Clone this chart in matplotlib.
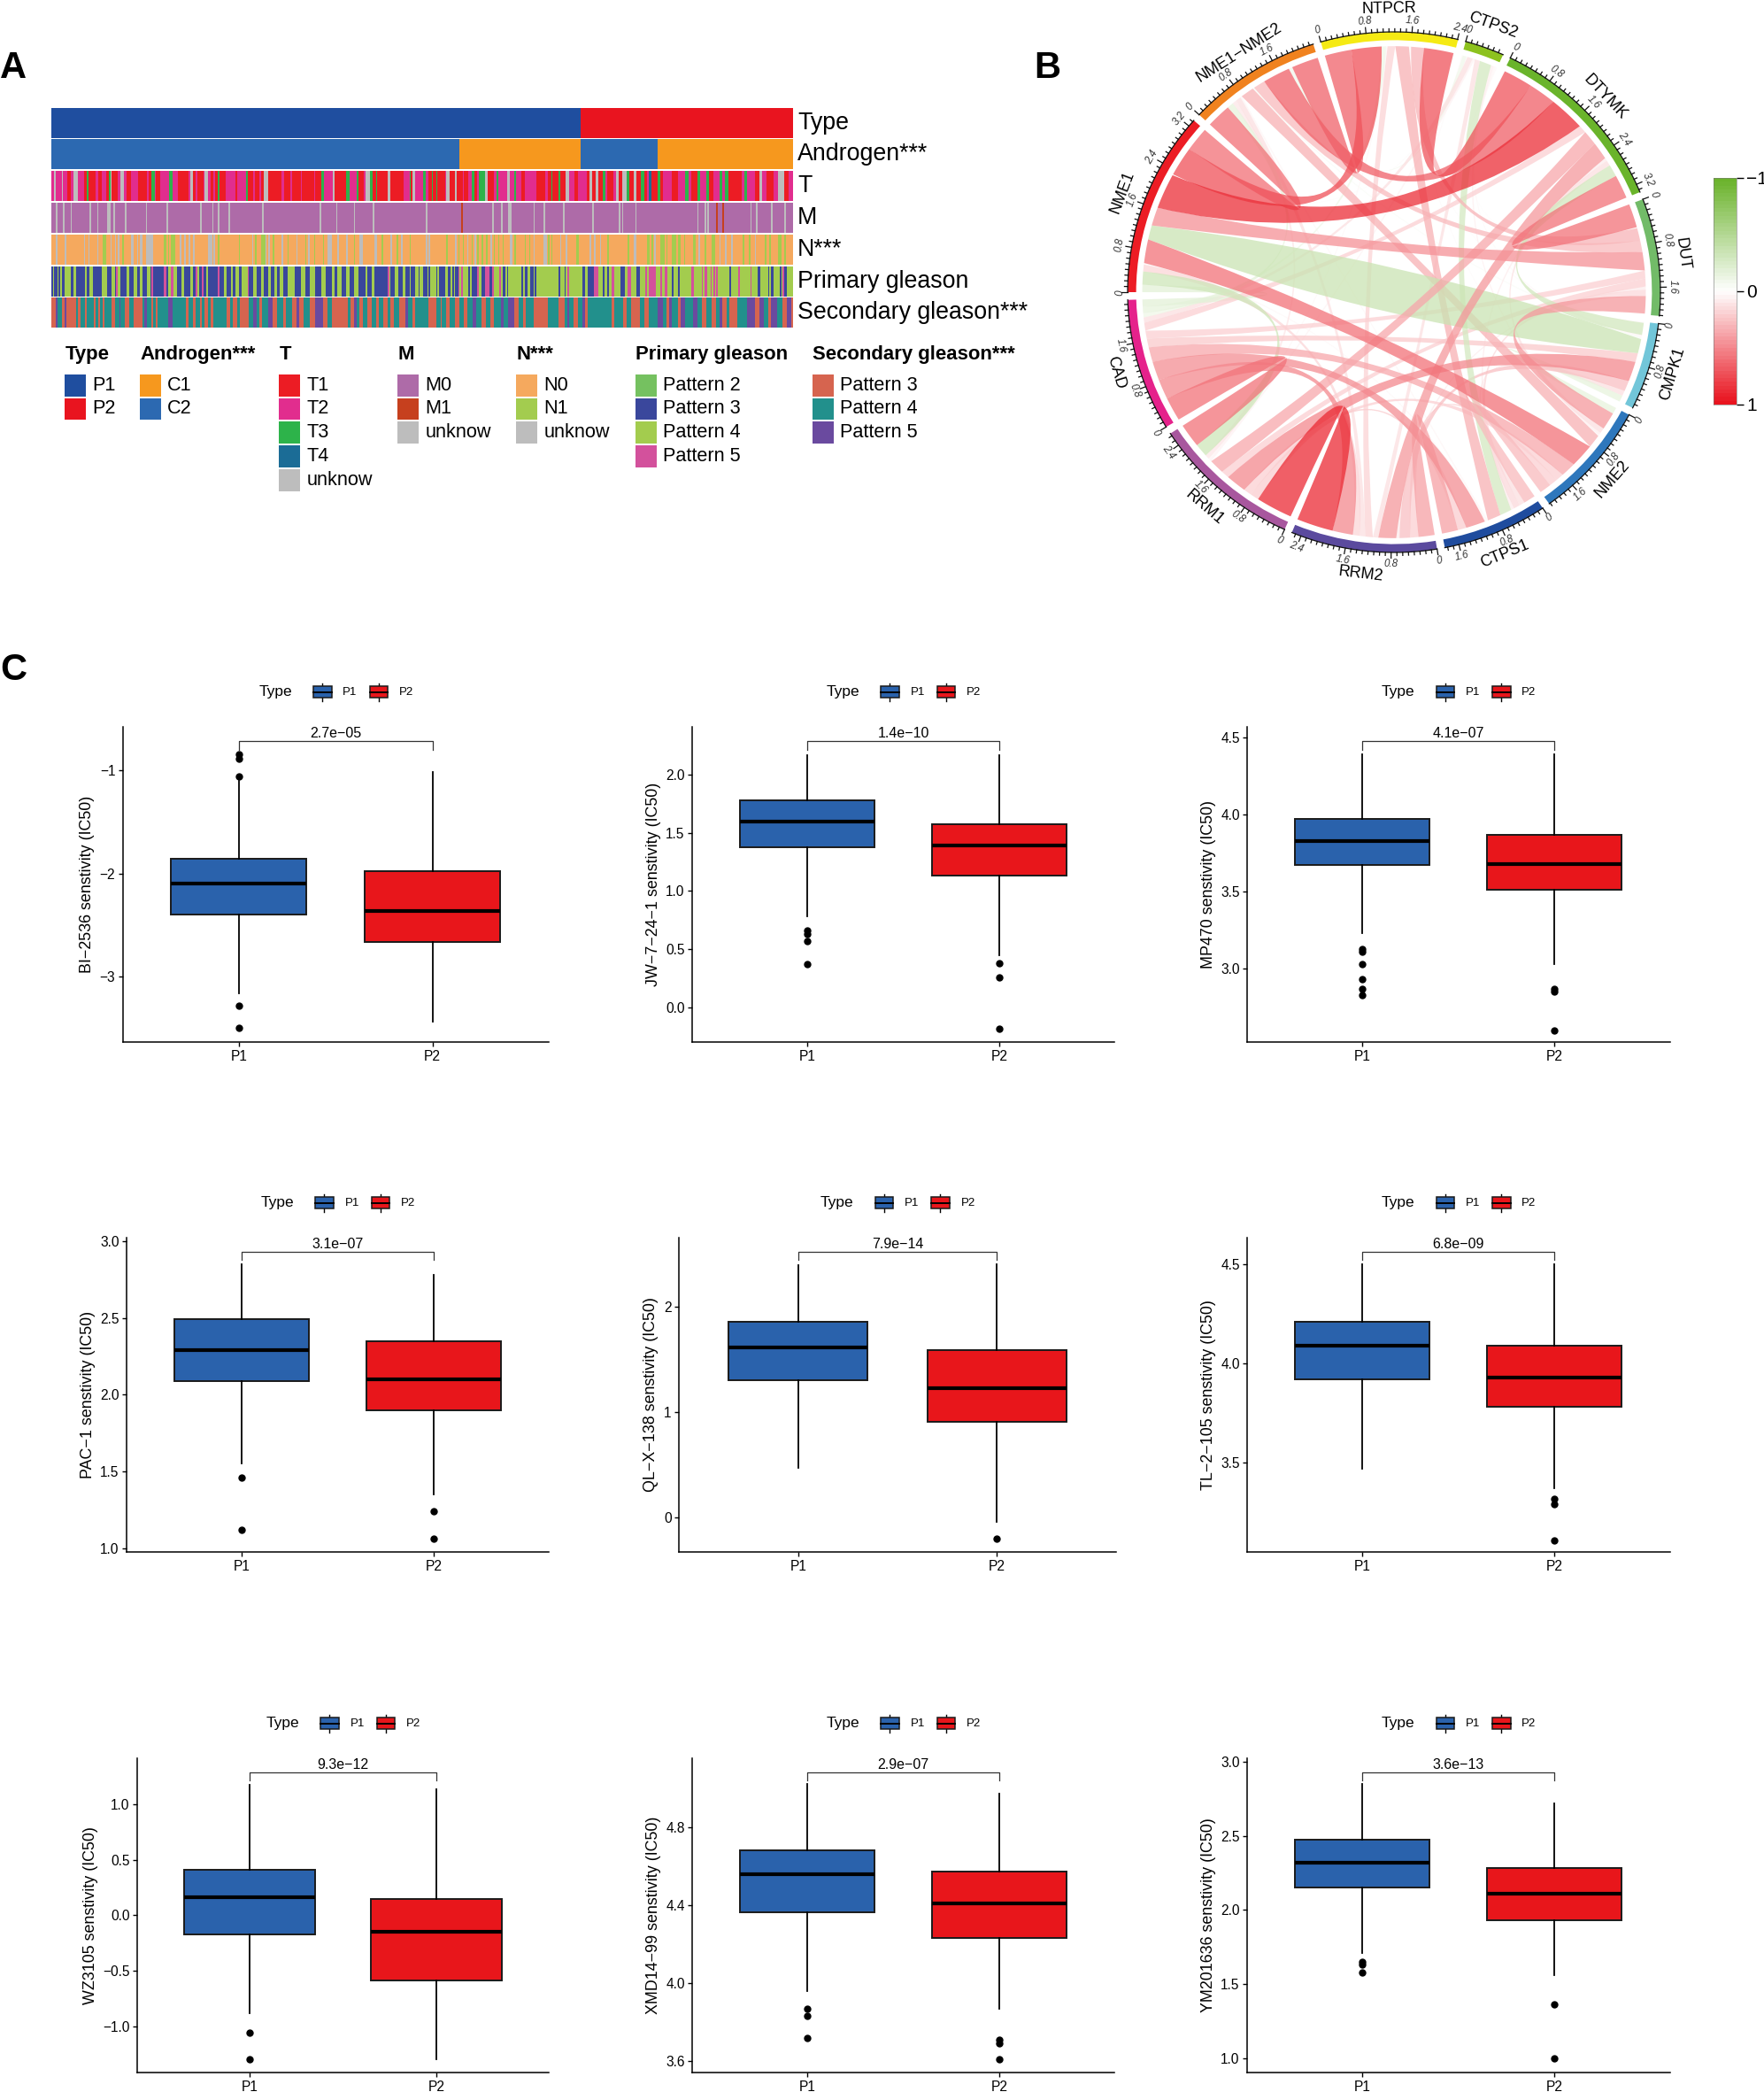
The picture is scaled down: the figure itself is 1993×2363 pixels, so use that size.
import re
import numpy as np
import matplotlib
matplotlib.use('Agg')
import matplotlib.pyplot as plt
from matplotlib.colors import ListedColormap, LinearSegmentedColormap, to_rgb
from matplotlib.patches import Rectangle, Wedge, PathPatch
from matplotlib.path import Path

plt.rcParams['font.family'] = ['Liberation Sans', 'DejaVu Sans']

W, H = 1993, 2363

# --- Panel A: sample annotation, stored as runs of samples (left half, right half)
N_LEFT, N_RIGHT = 250, 253
TYPE_RUNS = 'a359 b144'
ANDROGEN_RUNS = 'b277 a82 b52 a92'
T_LEFT = ('m2 u1 m4 u1 m3 r2 m2 u3 m4 r2 g1 r5 m2 r2 m3 r2 g1 u1 r4 m2 u2 m2 r3 m5 r6 m1 r2 g2 m1 r3 m6 g2 m4 r7 m1 u2 r2 m1 r4 m1 u2 m2 r2 m1 r2 g1 '
          'r4 m7 r1 m6 g1 r4 m1 r3 m1 r2 u3 r9 m2 r4 m1 r6 m1 r8 m1 r4 g2 m6 u1 r8 g2 m5 g1 r4 m1 u3 g2 r2 g1 r7 u2 r9 m4 g1 r1 u2 m3')
T_RIGHT = ('m2 g2 m2 r2 g1 r2 g1 r5 m1 u2 r4 u1 r4 m1 r3 m2 g2 r2 m1 g4 u2 r4 m2 g1 m6 u2 m3 g1 m4 r2 m8 r4 r2 m2 r2 g1 r4 g1 r4 u2 m4 r2 m6 r2 u2 r2 u2 r3 g2 m1 r4 '
           'm2 u2 r2 u3 g2 r3 u2 r3 g2 r2 m1 b2 r4 g2 r2 m6 r4 m5 g2 m2 r4 g2 m4 g2 r3 m4 g2 m2 g2 r9 m2 g2 m5 r3 u2 m3 r5 m3 u4 r3 m3')
M_LEFT = 'p3 u1 p4 u1 p4 u1 p12 u1 p4 u1 p6 u2 p2 u1 p7 u1 p13 u1 p13 u1 p22 u1 p7 u1 p3 u1 p6 u1 p22 u1 p38 u1 p10 u1 p11 u1 p12 u1 p33'
M_RIGHT = 'p4 u1 p23 r1 p20 u1 p5 u1 p4 u2 p15 u1 p6 u1 p12 u1 p19 u1 p17 u1 p1 u1 p8 u1 p41 u1 p4 u1 p1 u1 p5 r1 p3 r1 p18 u1 p3 u1 p9 u1 p8 u1 p2'
N_LEFT_RUNS = ('o3 u1 o5 u1 o12 u1 o2 u1 o5 u1 o3 n2 o3 u1 o2 u1 o1 u1 o2 n1 o5 u2 o2 u1 o1 u2 o2 u5 o7 n2 o1 n1 o1 n3 o3 u1 o2 u1 o2 u1 o2 u1 o9 u3 o1 u1 o2 n1 o13 n1 o8 '
               'u1 o1 n1 o3 n3 u1 o1 u1 o2 n1 o5 u1 o3 n1 o5 u1 o5 n1 o1 u1 o3 n1 o5 n1 o2 u3 o4 u1 o5 u1 o4 n1 o3 u2 o8 u2 o3 n1 o5 u1 o3 n1 o2 u1 o5 n1 o8')
N_RIGHT_RUNS = ('o4 u1 o1 u1 o11 n1 o5 u1 o1 n1 o2 n1 o2 u1 o2 n1 o1 u1 o1 n1 o2 n1 o2 n1 o2 u1 o1 n1 o2 n1 o2 n1 o4 u2 o1 n1 o6 n1 o2 n1 o2 u1 o6 u2 o1 n1 o1 n1 o5 u1 o3 u1 o6 n2 o7 '
                'u1 o2 u1 o3 u1 o4 n1 o13 n1 o3 u2 o7 n2 o1 n1 o1 u1 o3 n3 o1 n1 o3 n3 o1 n2 o2 n1 o5 n2 o2 u1 o3 n1 o4 n2 o3 u1 o3 u1 o3 u1 o7 n1 o3 n1 o3 u1 o6 n1 o2 n1 o5 n2 o2 n1 o5')
PRIMARY_LEFT = ('b1 c1 b2 c1 b1 c1 b2 c4 b2 c2 b6 c1 b2 c2 b6 c4 b3 c2 b1 d1 c2 b4 c2 b3 c2 b2 c2 b3 c2 b1 d1 b7 d2 b1 c2 d2 c2 b3 c2 b4 c2 b2 d1 c1 b2 d1 b2 c1 b7 d1 b3 c2 b3 c1 b2 c2 b2 c4 d1 '
                'b3 c2 b3 c2 b3 c2 b2 c2 b2 c2 b3 c5 b4 c3 b3 c4 b4 c3 b4 c2 b2 c3 b3 c2 b3 c3 b5 c1 b3 c2 b9 d1 c1 b3 c2 b3 c2 b3 c1 b3 c2 b1')
PRIMARY_RIGHT = ('c2 b3 c1 b1 c4 b1 c1 b4 c2 b2 c1 b1 c1 b2 d1 c1 d1 c4 b1 c1 b4 d1 c2 b2 d3 b2 d1 c4 d1 c1 b2 c1 b1 c9 b1 c1 b2 c2 b2 c1 b1 c15 b1 c3 b1 c1 d1 c9 b2 c2 b4 d3 c3 b1 c2 b1 c2 d2 c4 '
                 'b3 c2 d2 c4 b2 c4 d1 c1 d5 c3 d1 c2 d2 c3 b1 c3 b1 c3 c5 d2 c5 d1 c1 d2 c2 d1 c1 d1 c1 d1 c8 b1 c5 d1 c7 d1 c4 b2 c5 b1 c1 b2 c4 b1 c1 d1 b2 c2')
SECONDARY_LEFT = ('s3 v1 t3 s2 v1 s7 t1 s2 t3 s1 t5 s1 t2 s1 t2 s1 t5 s2 t3 v1 t3 s3 t3 s6 t1 v2 t3 s1 t2 s1 t7 v3 t9 s2 t3 s2 t3 s1 t2 s2 t2 s2 t9 s2 t2 s3 t2 s6 t3 v2 t2 s2 t4 v3 s3 t4 s2 t4 s3 v2 s3 '
                  't4 s4 v5 s3 t3 s11 t2 s2 v2 t2 s2 t3 s3 t3 s2 t3 s3 t2 s2 t4 s4 v2 t3 s2 t4')
SECONDARY_RIGHT = ('t6 s5 t3 s1 t3 s2 t4 s3 t3 s2 t4 v2 t4 s3 t3 s2 t5 v2 t3 v4 s3 t3 s2 t5 s10 t7 s4 t2 v1 t3 s3 t3 v2 s2 t16 s2 t6 s2 t3 s3 s3 t3 s3 t6 v4 t2 s2 v2 t4 s2 v3 t5 v3 t3 s3 t4 s3 t2 v2 s3 '
                   't2 s5 t7 v5 s3 v3 t3 s2 v4 t4 s3 v3 s2')

ROW_LABELS = ['Type', 'Androgen***', 'T', 'M', 'N***', 'Primary gleason', 'Secondary gleason***']
TYPE_COLS = {'a': '#1F4E9F', 'b': '#E9141F'}
ANDROGEN_COLS = {'a': '#F6981E', 'b': '#2C69B1'}
T_COLS = {'r': '#EC1C24', 'm': '#E12D8E', 'g': '#2DB34A', 'b': '#1B6C96', 'u': '#BDBDBD'}
M_COLS = {'p': '#AE6BA8', 'r': '#C6401E', 'u': '#BDBDBD'}
N_COLS = {'o': '#F5A95E', 'n': '#A3CC4F', 'u': '#BDBDBD'}
PRIMARY_COLS = {'a': '#75C160', 'b': '#3A479C', 'c': '#A3CC4E', 'd': '#D3519C'}
SECONDARY_COLS = {'s': '#D6644F', 't': '#22908C', 'v': '#6A4A9F'}

LEGEND_TITLES = ['Type', 'Androgen***', 'T', 'M', 'N***', 'Primary gleason', 'Secondary gleason***']
LEGEND_LABELS = [['P1', 'P2'], ['C1', 'C2'], ['T1', 'T2', 'T3', 'T4', 'unknow'], ['M0', 'M1', 'unknow'], ['N0', 'N1', 'unknow'],
                 ['Pattern 2', 'Pattern 3', 'Pattern 4', 'Pattern 5'], ['Pattern 3', 'Pattern 4', 'Pattern 5']]
LEGEND_COLS = [['#1F4E9F', '#E9141F'], ['#F6981E', '#2C69B1'], ['#EC1C24', '#E12D8E', '#2DB34A', '#1B6C96', '#BDBDBD'],
               ['#AE6BA8', '#C6401E', '#BDBDBD'], ['#F5A95E', '#A3CC4F', '#BDBDBD'],
               ['#75C160', '#3A479C', '#A3CC4E', '#D3519C'], ['#D6644F', '#22908C', '#6A4A9F']]
LEGEND_X = [73.5, 158, 315.5, 449.5, 583.5, 718, 918]

# --- Panel B: gene correlations, upper triangle, clockwise from NME1
GENES = ['NME1', 'NME1\u2212NME2', 'NTPCR', 'CTPS2', 'DTYMK', 'DUT', 'CMPK1', 'NME2', 'CTPS1', 'RRM2', 'RRM1', 'CAD']
GENE_COLS = ['#EC1C24', '#F0821E', '#F5EA14', '#8DC21F', '#6AB42B', '#72BB68', '#72C6D9', '#2E77BC', '#1F4C9E', '#5B4A9E', '#A8579E', '#E5228B']
CORR_UPPER = [
    [.46, .56, .02, .67, .35, -.27, .45, .03, .13, -.25, -.14],
    [.50, -.07, .51, .22, -.03, .25, .03, .10, .08, -.12],
    [.02, .55, .24, .02, .02, .25, .14, .03, -.08],
    [.02, .02, .03, .05, -.22, .10, .04, .10],
    [.45, -.23, .10, .06, .33, .28, .15],
    [.02, .33, .12, .06, .15, .15],
    [-.12, .10, .20, .38, .17],
    [.22, .15, .15, .28],
    [.30, .16, .36],
    [.68, .38],
    [.45],
]

# --- Panel C: drug sensitivity boxes, [whislo, q1, med, q3, whishi]
DRUGS = ['BI\u22122536', 'JW\u22127\u221224\u22121', 'MP470', 'PAC\u22121', 'QL\u2212X\u2212138', 'TL\u22122\u2212105', 'WZ3105', 'XMD14\u221299', 'YM201636']
P_VALUES = ['2.7e\u221205', '1.4e\u221210', '4.1e\u221207', '3.1e\u221207', '7.9e\u221214', '6.8e\u221209', '9.3e\u221212', '2.9e\u221207', '3.6e\u221213']
BOX_P1 = [[-3.157, -2.40, -2.10, -1.861, -1.10], [.78, 1.38, 1.60, 1.78, 2.17], [3.23, 3.67, 3.83, 3.97, 4.39],
          [1.55, 2.09, 2.29, 2.49, 2.85], [.47, 1.30, 1.61, 1.86, 2.39], [3.47, 3.92, 4.09, 4.21, 4.50],
          [-.88, -.17, .16, .41, 1.18], [3.96, 4.365, 4.56, 4.68, 5.02], [1.71, 2.15, 2.32, 2.475, 2.85]]
BOX_P2 = [[-3.43, -2.66, -2.36, -1.98, -1.014], [.45, 1.13, 1.39, 1.575, 2.17], [3.03, 3.51, 3.68, 3.87, 4.39],
          [1.35, 1.90, 2.10, 2.35, 2.78], [-.04, .91, 1.23, 1.59, 2.40], [3.37, 3.78, 3.93, 4.09, 4.50],
          [-1.30, -.59, -.145, .145, 1.14], [3.87, 4.23, 4.41, 4.57, 4.97], [1.56, 1.93, 2.11, 2.28, 2.72]]
OUT_P1 = [[-.843, -.89, -1.057, -3.277, -3.494], [.66, .63, .57, .37], [3.13, 3.11, 3.03, 2.93, 2.87, 2.83],
          [1.46, 1.12], [], [], [-1.06, -1.30], [3.87, 3.83, 3.72], [1.65, 1.63, 1.58]]
OUT_P2 = [[], [.38, .26, -.18], [2.87, 2.85, 2.60], [1.24, 1.06], [-.20], [3.32, 3.29, 3.11], [], [3.71, 3.69, 3.61], [1.36, 1.00]]
Y_TICKS = [[-3, -2, -1], [0, .5, 1, 1.5, 2], [3, 3.5, 4, 4.5], [1, 1.5, 2, 2.5, 3], [0, 1, 2], [3.5, 4, 4.5], [-1, -.5, 0, .5, 1], [3.6, 4, 4.4, 4.8], [1, 1.5, 2, 2.5, 3]]
Y_FORMATS = ['%d', '%.1f', '%.1f', '%.1f', '%d', '%.1f', '%.1f', '%.1f', '%.1f']
Y_LIMS = [(-3.634, -.577), (-.30, 2.414), (2.523, 4.57), (.974, 3.026), (-.33, 2.658), (3.05, 4.634), (-1.42, 1.42), (3.54, 5.155), (.90, 3.027)]
GROUPS = ['P1', 'P2']
GROUP_COLS = ['#2A62AC', '#E8161B']

# axes edges in pixels
PANEL_X = [(138.6, 620), (782, 1259), (1409, 1886.6), (143, 620), (767, 1261), (1409, 1886.6), (155, 620), (782, 1259), (1409, 1886.6)]
PANEL_Y = [(820.7, 1177.3)] * 3 + [(1397.5, 1753.3)] * 3 + [(1985.5, 2341.3)] * 3


def px_axes(fig, x0, y0, x1, y1, **kw):
    return fig.add_axes([x0 / W, 1 - y1 / H, (x1 - x0) / W, (y1 - y0) / H], **kw)


def expand(runs, size=None):
    out = []
    for code, count in re.findall(r'([a-z])(\d+)', runs):
        out.extend([code] * int(count))
    if size is not None:
        out = (out + [out[-1]] * size)[:size]
    return out


def draw_strip(ax, codes, colours, y0, y1):
    keys = list(colours)
    values = np.array([[keys.index(c) for c in codes]])
    ax.imshow(values, extent=(0, len(codes), y1, y0), aspect='auto', interpolation='nearest',
              cmap=ListedColormap([colours[k] for k in keys]), vmin=0, vmax=len(keys) - 1)


def heatmap(fig, page):
    ax = px_axes(fig, 58, 121.7, 895.4, 371.3)
    rows = [
        (expand(TYPE_RUNS), TYPE_COLS),
        (expand(ANDROGEN_RUNS), ANDROGEN_COLS),
        (expand(T_LEFT, N_LEFT) + expand(T_RIGHT, N_RIGHT), T_COLS),
        (expand(M_LEFT, N_LEFT) + expand(M_RIGHT, N_RIGHT), M_COLS),
        (expand(N_LEFT_RUNS, N_LEFT) + expand(N_RIGHT_RUNS, N_RIGHT), N_COLS),
        (expand(PRIMARY_LEFT, N_LEFT) + expand(PRIMARY_RIGHT, N_RIGHT), PRIMARY_COLS),
        (expand(SECONDARY_LEFT, N_LEFT) + expand(SECONDARY_RIGHT, N_RIGHT), SECONDARY_COLS),
    ]
    pitch = 35.77
    for i, (codes, colours) in enumerate(rows):
        top = 121.7 + i * pitch
        draw_strip(ax, codes, colours, top, top + 34)
        page.text(901, top + 17, ROW_LABELS[i], fontsize=19.3, va='center', ha='left')
    ax.set_xlim(0, N_LEFT + N_RIGHT)
    ax.set_ylim(371.3, 121.7)
    ax.axis('off')

    # legend under the strips
    for title, labels, cols, x in zip(LEGEND_TITLES, LEGEND_LABELS, LEGEND_COLS, LEGEND_X):
        page.text(x, 400.5, title, fontsize=15.9, fontweight='bold', va='center', ha='left')
        for j, (lab, col) in enumerate(zip(labels, cols)):
            y = 422.7 + j * 26.8
            page.add_patch(Rectangle((x, y), 24, 24.8, fc=col, lw=0))
            page.text(x + 31, y + 12.4, lab, fontsize=15.6, va='center', ha='left')


def sector_layout(corr):
    gap = 1.7
    sizes = np.abs(corr).sum(axis=1)
    k = (360 - gap * len(sizes)) / sizes.sum()
    starts = []
    angle = 180.0
    for s in sizes:
        starts.append(angle)
        angle -= s * k + gap
    return sizes, np.array(starts), k


def polar(theta, r):
    t = np.radians(theta)
    return np.array([r * np.cos(t), r * np.sin(t)])


def ribbon_path(a0, a1, b0, b1, R):
    arc_a = [polar(t, R) for t in np.linspace(a0, a1, 12)]
    arc_b = [polar(t, R) for t in np.linspace(b0, b1, 12)]

    def control(p, q):
        mid = p + q
        n = np.hypot(*mid)
        half = np.hypot(*(p - q)) / (2 * R)
        return mid / n * 0.15 * R * half if n > 1e-6 else np.zeros(2)

    verts = list(arc_a) + [control(arc_a[-1], arc_b[0]), arc_b[0]] + list(arc_b[1:]) + [control(arc_b[-1], arc_a[0]), arc_a[0]]
    codes = [Path.MOVETO] + [Path.LINETO] * 11 + [Path.CURVE3, Path.CURVE3] + [Path.LINETO] * 11 + [Path.CURVE3, Path.CURVE3]
    return Path(verts, codes)


def ribbon_colour(r):
    end = np.array(to_rgb('#E9141F' if r > 0 else '#6BB32C'))
    t = min(abs(r) / 0.75, 1)
    return tuple(1 + (end - 1) * t)


def text_rotation(theta):
    theta = (theta + 180) % 360 - 180
    return theta - 90 if theta > 0 else theta + 90


def chord(fig):
    rx, ry, cx, cy, m = 301, 294, 1575, 330, 1.2
    ax = px_axes(fig, cx - m * rx, cy - m * ry, cx + m * rx, cy + m * ry)
    ax.set_xlim(-m, m)
    ax.set_ylim(-m, m)
    ax.axis('off')

    n = len(GENES)
    corr = np.zeros((n, n))
    for i, row in enumerate(CORR_UPPER):
        corr[i, i + 1:] = row
    corr = corr + corr.T

    sizes, starts, k = sector_layout(corr)
    R = 0.945
    # links in each sector run from the previous sector backwards round the circle
    ends = {}
    for i in range(n):
        theta = starts[i]
        for step in range(1, n):
            j = (i - step) % n
            w = abs(corr[i, j]) * k
            ends[(i, j)] = (theta, theta - w)
            theta -= w

    pairs = sorted(((i, j) for i in range(n) for j in range(i + 1, n)), key=lambda p: abs(corr[p]))
    for i, j in pairs:
        a0, a1 = ends[(i, j)]
        b0, b1 = ends[(j, i)]
        ax.add_patch(PathPatch(ribbon_path(a0, a1, b0, b1, R), fc=ribbon_colour(corr[i, j]), alpha=0.75, lw=0, zorder=2))

    for i, gene in enumerate(GENES):
        t0 = starts[i]
        t1 = t0 - sizes[i] * k
        ax.add_patch(Wedge((0, 0), 1.0, t1, t0, width=0.032, fc=GENE_COLS[i], lw=0, zorder=3))
        arc = polar(np.linspace(t0, t1, 60), 1.0)
        ax.plot(arc[0], arc[1], color='#111111', lw=0.9, zorder=4)
        for tick in range(int(sizes[i] * 10 + 1e-6) + 1):
            theta = t0 - tick * 0.1 * k
            major = tick % 8 == 0
            p = polar(theta, np.array([1.0, 1.022 if major else 1.012]))
            ax.plot(p[0], p[1], color='#111111', lw=0.9, zorder=4)
            if major:
                q = polar(theta, 1.045)
                ax.text(q[0], q[1], '0' if tick == 0 else '%g' % (tick / 10), fontsize=8.3, color='#333333', style='italic',
                        rotation=text_rotation(theta), rotation_mode='anchor', ha='center', va='center')
        mid = (t0 + t1) / 2
        q = polar(mid, 1.09)
        ax.text(q[0], q[1], gene, fontsize=13, rotation=text_rotation(mid), rotation_mode='anchor', ha='center', va='center', zorder=5)

    # colour bar
    bar = px_axes(fig, 1936, 201, 1962, 457)
    steps = np.linspace(-1, 1, 60)[:, None]
    cmap = LinearSegmentedColormap.from_list('corr', ['#6BB32C', '#FFFFFF', '#E9141F'])
    bar.imshow(steps, extent=(0, 1, 1, -1), aspect='auto', cmap=cmap, vmin=-1, vmax=1, interpolation='nearest')
    bar.set_xticks([])
    bar.yaxis.tick_right()
    bar.set_yticks([-1, 0, 1])
    bar.set_yticklabels(['\u22121', '0', '1'], fontsize=15)
    bar.tick_params(axis='y', length=6, width=1, pad=2)
    for s in bar.spines.values():
        s.set_linewidth(0.4)
        s.set_color('#777777')


def boxplot(fig, page, i):
    x0, x1 = PANEL_X[i]
    y0, y1 = PANEL_Y[i]
    ax = px_axes(fig, x0, y0, x1, y1)
    stats = []
    for box, fliers, group in zip((BOX_P1[i], BOX_P2[i]), (OUT_P1[i], OUT_P2[i]), GROUPS):
        lo, q1, med, q3, hi = box
        stats.append({'label': group, 'whislo': lo, 'q1': q1, 'med': med, 'q3': q3, 'whishi': hi, 'fliers': fliers})
    parts = ax.bxp(stats, positions=[1, 2], widths=0.7, patch_artist=True, showcaps=False,
                   boxprops={'edgecolor': '#1a1a1a', 'linewidth': 1.4},
                   whiskerprops={'color': 'black', 'linewidth': 1.3},
                   medianprops={'color': 'black', 'linewidth': 3.0, 'solid_capstyle': 'butt'},
                   flierprops={'marker': 'o', 'markersize': 5, 'markerfacecolor': 'black', 'markeredgecolor': 'black'})
    for patch, col in zip(parts['boxes'], GROUP_COLS):
        patch.set_facecolor(col)

    ax.set_xlim(0.4, 2.6)
    ax.set_ylim(*Y_LIMS[i])
    ax.set_yticks(Y_TICKS[i])
    ax.set_yticklabels([(Y_FORMATS[i] % v).replace('-', '\u2212') for v in Y_TICKS[i]])
    ax.tick_params(labelsize=11.2, length=3.5, width=1, pad=2.5)
    ax.spines['top'].set_visible(False)
    ax.spines['right'].set_visible(False)
    ax.spines['left'].set_linewidth(1.1)
    ax.spines['bottom'].set_linewidth(1.1)
    ax.set_ylabel(DRUGS[i] + ' senstivity (IC50)', fontsize=12.9, labelpad=4)

    # p value bracket
    ax.plot([1, 1, 2, 2], [.927, .953, .953, .927], transform=ax.get_xaxis_transform(), color='#333333', lw=0.9, clip_on=False)
    ax.text(1.5, .977, P_VALUES[i], transform=ax.get_xaxis_transform(), fontsize=11.5, ha='center', va='center')

    # legend over the panel
    xc = (x0 + x1) / 2
    yl = y0 - 39
    page.text(xc - 87, yl, 'Type', fontsize=12.5, va='center', ha='left')
    for dx, col, lab in zip((-25, 38.5), GROUP_COLS, GROUPS):
        page.plot([xc + dx + 10, xc + dx + 10], [yl - 10, yl + 10], color='black', lw=1)
        page.add_patch(Rectangle((xc + dx, yl - 6.5), 20.5, 13, fc=col, ec='#1a1a1a', lw=1.1, zorder=3))
        page.plot([xc + dx, xc + dx + 20.5], [yl, yl], color='black', lw=1.4, zorder=4)
        page.text(xc + dx + 33, yl, lab, fontsize=9.5, va='center', ha='left')


def main():
    fig = plt.figure(figsize=(W / 100, H / 100), dpi=100)
    page = fig.add_axes([0, 0, 1, 1], zorder=10)
    page.set_xlim(0, W)
    page.set_ylim(H, 0)
    page.axis('off')
    page.patch.set_alpha(0)

    for letter, x, y in (('A', 15, 77), ('B', 1183, 77), ('C', 15, 757)):
        page.text(x, y, letter, fontsize=30, fontweight='bold', ha='center', va='center')

    heatmap(fig, page)
    chord(fig)
    for i in range(len(DRUGS)):
        boxplot(fig, page, i)

    fig.savefig('out.png', dpi=100, facecolor='white')
    plt.close(fig)


if __name__ == '__main__':
    main()
